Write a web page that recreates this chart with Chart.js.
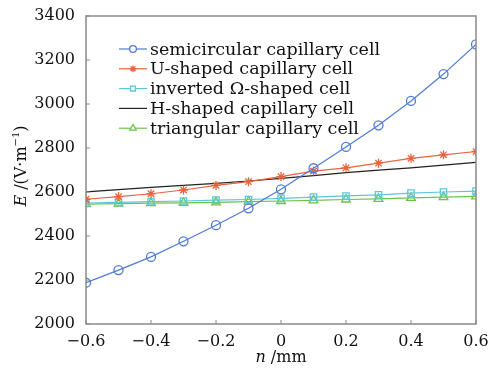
<!DOCTYPE html>
<html><head><meta charset="utf-8">
<script src="https://cdn.jsdelivr.net/npm/chart.js@4"></script>
<style>html,body{margin:0;padding:0;background:#fff}#w{width:493px;height:375px}</style>
</head><body><div id="w"><canvas id="c"></canvas></div>
<script>
const nValues = [-0.6,-0.5,-0.4,-0.3,-0.2,-0.1,0,0.1,0.2,0.3,0.4,0.5,0.6];
const semicircular = [2188,2245,2305,2376,2449,2526,2612,2708,2805,2903,3014,3136,3271];
const uShaped = [2567,2579,2592,2609,2630,2647,2670,2695,2710,2731,2753,2769,2784];
const invertedOmega = [2550,2553,2556,2559,2563,2566,2571,2577,2582,2587,2595,2600,2604];
const hShaped = [2601,2611,2621,2630,2639,2650,2662,2674,2688,2699,2710,2722,2735];
const triangular = [2545,2547,2549,2551,2553,2556,2559,2562,2566,2569,2573,2577,2580];
const xTicks = [-0.6,-0.4,-0.2,0,0.2,0.4,0.6];
const yTicks = [2000,2200,2400,2600,2800,3000,3200,3400];
const seriesNames = ['semicircular capillary cell','U-shaped capillary cell','inverted \u03A9-shaped cell','H-shaped capillary cell','triangular capillary cell'];

const SERIF = '"DejaVu Serif","Liberation Serif",serif';
function pts(arr){return nValues.map((x,i)=>({x:x,y:arr[i]}));}
const cols = ['#4f7bd3','#e8643c','#5cc7dc','#222222','#6cc24a'];
const styles = ['circle','star','rect',false,'triangle'];
const radii = [4.5,4.5,4.5,0,5];
const datasets = [semicircular,uShaped,invertedOmega,hShaped,triangular].map((d,i)=>({
  label: seriesNames[i], data: pts(d), borderColor: cols[i], backgroundColor:'rgba(0,0,0,0)',
  borderWidth: 1.2, pointStyle: styles[i]||'circle', pointRadius: radii[i], pointBorderWidth:1.3,
  pointBorderColor: cols[i], pointBackgroundColor:'rgba(0,0,0,0)', tension:0
}));

const deco = {
  id:'deco',
  afterDraw(chart){
    const ctx = chart.ctx, a = chart.chartArea, xs = chart.scales.x, ys = chart.scales.y;
    ctx.save();
    ctx.strokeStyle = '#8a8a8a'; ctx.lineWidth = 1.5;
    ctx.strokeRect(a.left, a.top, a.right-a.left, a.bottom-a.top);
    ctx.lineWidth = 1;
    xTicks.forEach(v=>{const px=xs.getPixelForValue(v); ctx.beginPath(); ctx.moveTo(px,a.bottom); ctx.lineTo(px,a.bottom-4); ctx.stroke();});
    yTicks.forEach(v=>{const py=ys.getPixelForValue(v); ctx.beginPath(); ctx.moveTo(a.left,py); ctx.lineTo(a.left+4,py); ctx.stroke();});
    // axis titles
    ctx.fillStyle = '#111111';
    ctx.textBaseline = 'middle';
    const xt1 = 'n', xt2 = ' /mm';
    ctx.font = 'italic 16px '+SERIF; const w1 = ctx.measureText(xt1).width;
    ctx.font = '16px '+SERIF; const w2 = ctx.measureText(xt2).width;
    let cx = (a.left+a.right)/2 - (w1+w2)/2, cy = 358;
    ctx.font = 'italic 16px '+SERIF; ctx.textAlign='left'; ctx.fillText(xt1,cx,cy);
    ctx.font = '16px '+SERIF; ctx.fillText(xt2,cx+w1,cy);
    // y title rotated
    ctx.save();
    ctx.translate(22,(a.top+a.bottom)/2 - 4); ctx.rotate(-Math.PI/2);
    const p1='E', p2=' /(V\u00B7m', p3='\u22121', p4=')';
    ctx.font='italic 16px '+SERIF; const q1=ctx.measureText(p1).width;
    ctx.font='16px '+SERIF; const q2=ctx.measureText(p2).width, q4=ctx.measureText(p4).width;
    ctx.font='10px '+SERIF; const q3=ctx.measureText(p3).width;
    let sx = -(q1+q2+q3+q4)/2;
    ctx.font='italic 16px '+SERIF; ctx.fillText(p1,sx,0); sx+=q1;
    ctx.font='16px '+SERIF; ctx.fillText(p2,sx,0); sx+=q2;
    ctx.font='10px '+SERIF; ctx.fillText(p3,sx,-6); sx+=q3;
    ctx.font='16px '+SERIF; ctx.fillText(p4,sx,0);
    ctx.restore();
    // legend
    const lx0 = 119, lx1 = 147, ty0 = 49, dy = 19.8;
    datasets.forEach((ds,i)=>{
      const y = ty0 + i*dy;
      ctx.strokeStyle = ds.borderColor; ctx.lineWidth = 1.2;
      ctx.beginPath(); ctx.moveTo(lx0,y); ctx.lineTo(lx1,y); ctx.stroke();
      if (styles[i]) {
        ctx.lineWidth = 1.3; ctx.fillStyle = '#ffffff';
        Chart.helpers.drawPoint(ctx,{pointStyle:styles[i],radius:radii[i]*0.75,borderWidth:1.3},(lx0+lx1)/2,y);
      }
      ctx.fillStyle = '#111111'; ctx.font = '17.5px '+SERIF; ctx.textAlign='left'; ctx.textBaseline='middle';
      ctx.fillText(ds.label, lx1+3, y+1);
    });
    ctx.restore();
  }
};

new Chart(document.getElementById('c'),{
  type:'line',
  data:{datasets:datasets},
  options:{
    responsive:true, maintainAspectRatio:false, animation:false,
    layout:{padding:{left:0,right:17,top:16,bottom:0}},
    plugins:{legend:{display:false},tooltip:{enabled:false}},
    scales:{
      x:{type:'linear',min:-0.6,max:0.6,
        afterBuildTicks(s){s.ticks = xTicks.map(v=>({value:v}));},
        afterFit(s){s.height=51;},
        grid:{display:false}, border:{display:false},
        ticks:{color:'#111111',font:{family:SERIF,size:16},padding:0,maxRotation:0,autoSkip:false,
          callback:(v)=> v===0?'0':(v<0?'\u2212'+Math.abs(v).toFixed(1):v.toFixed(1))}},
      y:{type:'linear',min:2000,max:3400,
        afterBuildTicks(s){s.ticks = yTicks.map(v=>({value:v}));},
        afterFit(s){s.width=86;},
        grid:{display:false}, border:{display:false},
        ticks:{color:'#111111',font:{family:SERIF,size:16},padding:3,autoSkip:false,callback:(v)=>String(v)}}
    }
  },
  plugins:[deco]
});
</script></body></html>
